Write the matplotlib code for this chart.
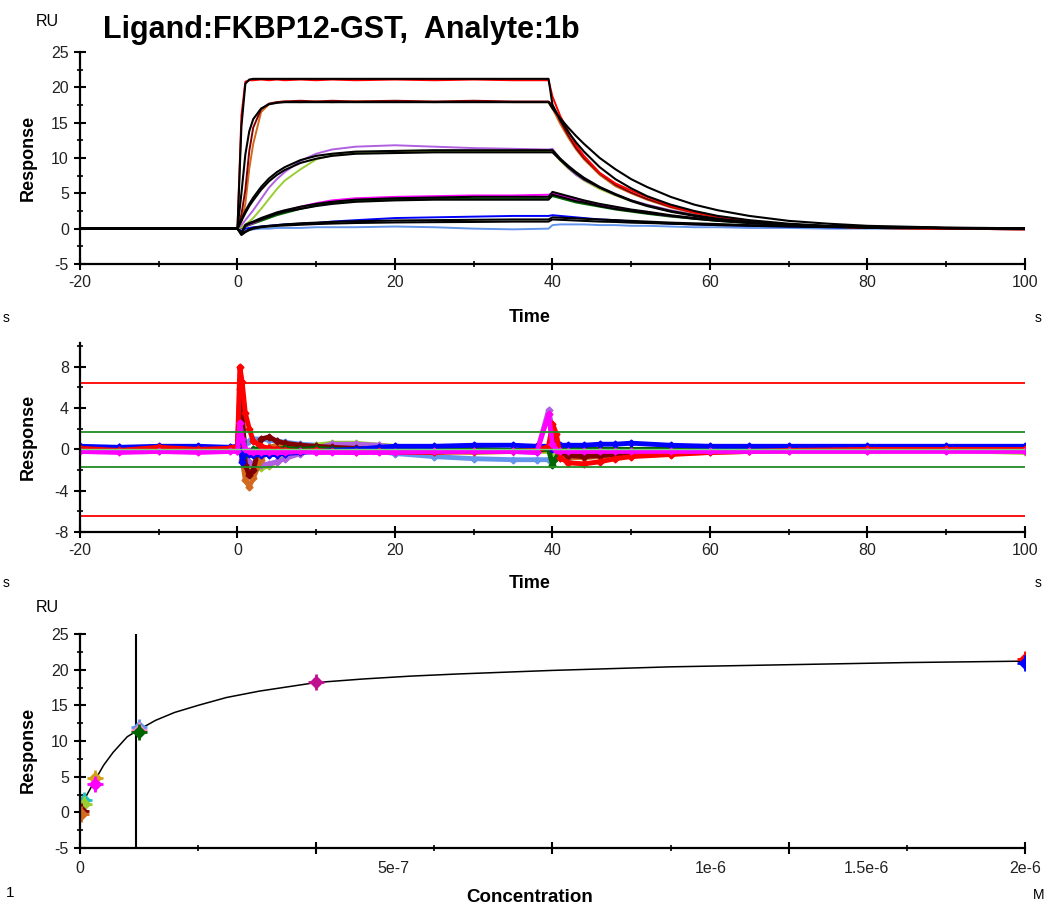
import numpy as np
import matplotlib.pyplot as plt
from matplotlib.ticker import MultipleLocator

plt.rcParams['font.family'] = ['Liberation Sans', 'DejaVu Sans']
plt.rcParams['axes.unicode_minus'] = False

# ---- top panel: sensorgrams (RU vs time, s) ----
sg_t = [-20, -10, -0.5, 0, 0.5, 1, 1.5, 2, 3, 4, 5, 6, 8, 10, 12, 15, 20, 25, 30, 35, 39.5,
        40, 41, 42, 43, 44, 46, 48, 50, 52, 55, 58, 61, 65, 70, 75, 80, 90, 100]

sg_red = [0.0, 0.0, 0.0, 0.0, 16.0, 20.8, 21.0, 21.0, 21.1, 21.0, 21.1, 21.0, 21.1, 21.0, 21.1, 21.0, 21.1, 21.0, 21.1, 21.0, 21.0,
          18.7, 15.9, 13.8, 11.8, 10.3, 7.9, 6.4, 5.4, 4.5, 3.2, 2.3, 1.7, 1.1, 0.6, 0.3, 0.1, 0.0, -0.1]
sg_brown = [0.0, 0.0, 0.0, 0.0, 2.0, 5.5, 11.0, 14.3, 16.9, 17.7, 17.9, 18.0, 18.1, 18.0, 18.1, 18.0, 18.1, 18.0, 18.1, 18.0, 18.0,
            17.5, 15.2, 13.2, 11.4, 10.0, 7.8, 6.2, 5.1, 4.2, 3.1, 2.3, 1.7, 1.1, 0.6, 0.3, 0.1, 0.0, 0.0]
sg_orange = [0.0, 0.0, 0.0, 0.0, 1.0, 3.5, 8.5, 12.0, 16.5, 17.6, 17.9, 18.0, 17.9, 18.0, 17.9, 18.0, 18.0, 17.9, 18.0, 17.9, 17.9,
             17.0, 14.8, 12.9, 11.2, 9.8, 7.6, 6.0, 5.0, 4.1, 3.0, 2.2, 1.6, 1.0, 0.5, 0.3, 0.1, 0.0, -0.1]
sg_purple = [0.0, 0.0, 0.0, 0.0, 0.5, 1.2, 1.9, 2.6, 4.2, 5.8, 7.0, 8.0, 9.6, 10.6, 11.2, 11.6, 11.8, 11.6, 11.4, 11.3, 11.2,
             11.3, 9.8, 8.6, 7.6, 6.9, 5.8, 4.8, 4.0, 3.4, 2.6, 2.0, 1.5, 1.0, 0.6, 0.3, 0.1, 0.0, -0.1]
sg_olive = [0.0, 0.0, 0.0, 0.0, 0.2, 0.6, 1.0, 1.5, 2.8, 4.2, 5.6, 6.8, 8.4, 9.8, 10.4, 10.8, 10.9, 10.9, 11.0, 10.9, 11.0,
            11.0, 9.6, 8.5, 7.6, 6.8, 5.6, 4.7, 3.9, 3.3, 2.5, 1.9, 1.4, 1.0, 0.6, 0.3, 0.1, 0.0, -0.1]
sg_magenta = [0.0, 0.0, 0.0, 0.0, 0.2, 0.4, 0.6, 0.8, 1.3, 1.8, 2.2, 2.5, 3.1, 3.6, 4.0, 4.3, 4.5, 4.6, 4.7, 4.7, 4.8,
              5.0, 4.7, 4.4, 4.1, 3.8, 3.4, 3.0, 2.6, 2.3, 1.8, 1.5, 1.2, 0.9, 0.6, 0.3, 0.2, 0.0, -0.1]
sg_dkgreen = [0.0, 0.0, 0.0, 0.0, 0.1, 0.3, 0.5, 0.7, 1.1, 1.5, 1.9, 2.2, 2.8, 3.3, 3.6, 3.9, 4.1, 4.2, 4.2, 4.2, 4.2,
              4.6, 4.3, 4.0, 3.7, 3.5, 3.1, 2.7, 2.4, 2.1, 1.7, 1.4, 1.1, 0.8, 0.5, 0.3, 0.1, 0.0, -0.1]
sg_blue = [0.0, 0.0, 0.0, 0.0, -0.3, 0.0, 0.1, 0.2, 0.3, 0.4, 0.5, 0.6, 0.7, 0.8, 1.0, 1.2, 1.5, 1.6, 1.7, 1.8, 1.8,
           1.9, 1.8, 1.7, 1.6, 1.5, 1.3, 1.2, 1.0, 0.9, 0.7, 0.6, 0.5, 0.4, 0.3, 0.2, 0.1, 0.0, 0.0]
sg_ltblue = [0.0, 0.0, 0.0, 0.0, -0.5, -0.3, -0.2, -0.1, 0.0, 0.0, 0.1, 0.1, 0.1, 0.2, 0.2, 0.2, 0.3, 0.2, 0.0, -0.1, 0.0,
             0.5, 0.6, 0.6, 0.6, 0.6, 0.5, 0.5, 0.4, 0.4, 0.3, 0.2, 0.2, 0.1, 0.1, 0.0, 0.0, 0.0, 0.0]

fit_2000 = [0.0, 0.0, 0.0, 0.0, 14.5, 20.5, 21.1, 21.2, 21.2, 21.2, 21.2, 21.2, 21.2, 21.2, 21.2, 21.2, 21.2, 21.2, 21.2, 21.2, 21.2,
            17.5, 15.4, 13.7, 12.2, 10.9, 8.7, 7.0, 5.7, 4.6, 3.4, 2.5, 1.8, 1.2, 0.7, 0.4, 0.2, 0.1, 0.0]
fit_500 = [0.0, 0.0, 0.0, 0.0, 5.0, 10.5, 13.8, 15.5, 17.0, 17.6, 17.8, 17.9, 17.9, 17.9, 17.9, 17.9, 17.9, 17.9, 17.9, 17.9, 17.9,
           17.0, 15.6, 14.3, 13.1, 12.0, 10.0, 8.4, 7.0, 5.9, 4.5, 3.4, 2.6, 1.8, 1.1, 0.7, 0.4, 0.15, 0.05]
fit_125a = [0.0, 0.0, 0.0, 0.0, 1.3, 2.5, 3.5, 4.4, 5.9, 7.1, 8.0, 8.7, 9.7, 10.3, 10.6, 10.9, 11.0, 11.1, 11.1, 11.1, 11.1,
            11.1, 9.9, 8.9, 8.0, 7.2, 5.9, 4.9, 4.0, 3.3, 2.5, 1.9, 1.4, 0.95, 0.6, 0.35, 0.2, 0.08, 0.03]
fit_125b = [0.0, 0.0, 0.0, 0.0, 1.1, 2.2, 3.2, 4.0, 5.5, 6.7, 7.6, 8.3, 9.3, 9.9, 10.3, 10.6, 10.7, 10.8, 10.8, 10.8, 10.8,
            10.8, 9.7, 8.7, 7.8, 7.0, 5.8, 4.8, 3.9, 3.2, 2.4, 1.8, 1.3, 0.9, 0.55, 0.3, 0.18, 0.07, 0.03]
fit_31a = [0.0, 0.0, 0.0, 0.0, -0.6, 0.55, 0.8, 1.0, 1.5, 1.9, 2.3, 2.6, 3.1, 3.5, 3.8, 4.1, 4.3, 4.4, 4.5, 4.5, 4.5,
           5.2, 4.9, 4.6, 4.3, 4.0, 3.5, 3.1, 2.7, 2.4, 1.9, 1.5, 1.2, 0.85, 0.55, 0.35, 0.2, 0.08, 0.03]
fit_31b = [0.0, 0.0, 0.0, 0.0, -0.7, 0.4, 0.7, 0.9, 1.3, 1.7, 2.1, 2.4, 2.8, 3.2, 3.5, 3.8, 4.0, 4.1, 4.1, 4.1, 4.1,
           4.8, 4.5, 4.2, 3.9, 3.7, 3.2, 2.8, 2.5, 2.2, 1.8, 1.4, 1.1, 0.8, 0.5, 0.3, 0.2, 0.08, 0.03]
fit_8a = [0.0, 0.0, 0.0, 0.0, -0.8, -0.4, -0.1, 0.1, 0.3, 0.4, 0.5, 0.6, 0.75, 0.85, 0.95, 1.05, 1.15, 1.2, 1.25, 1.3, 1.3,
          1.6, 1.55, 1.5, 1.45, 1.4, 1.3, 1.2, 1.1, 1.0, 0.85, 0.75, 0.65, 0.5, 0.4, 0.3, 0.2, 0.1, 0.05]
fit_8b = [0.0, 0.0, 0.0, 0.0, -0.9, -0.5, -0.2, 0.0, 0.2, 0.3, 0.4, 0.45, 0.55, 0.65, 0.72, 0.8, 0.88, 0.92, 0.95, 1.0, 1.0,
          1.3, 1.25, 1.2, 1.15, 1.1, 1.0, 0.95, 0.85, 0.8, 0.7, 0.6, 0.5, 0.4, 0.3, 0.22, 0.15, 0.08, 0.03]

sg_data = [sg_ltblue, sg_blue, sg_dkgreen, sg_magenta, sg_olive, sg_purple, sg_orange, sg_brown, sg_red]
sg_colors = ['#6495ed', '#0000ff', '#006400', '#ff00ff', '#9acd32', '#b060e0', '#d2691e', '#800000', '#ff0000']
sg_fits = [fit_8b, fit_8a, fit_31b, fit_31a, fit_125b, fit_125a, fit_500, fit_2000]

# ---- middle panel: residuals ----
res_t = [-20, -15, -10, -5, -1, 0, 0.3, 0.6, 1, 1.5, 2, 3, 4, 5, 6, 8, 10, 12, 15, 18, 20, 25, 30, 35, 38, 39.5,
         40, 40.5, 41, 42, 44, 46, 48, 50, 55, 60, 65, 70, 80, 90, 100]
res_ltblue = [0.1, 0.2, 0.0, 0.1, 0.2, 0.2, 5.0, 2.0, 0.5, 0.8, 1.0, 1.0, 0.9, 0.8, 0.7,
              0.5, 0.4, 0.2, 0.0, -0.2, -0.4, -0.7, -0.9, -1.0, -1.0, -1.0, -1.2, -0.5, -0.8, -0.9, -0.6, -0.4, -0.3, -0.2, -0.1,
              0.0, 0.0, 0.1, 0.0, 0.0, 0.0]
res_olive = [0.1, 0.0, -0.2, 0.1, 0.0, 0.0, 0.5, -0.5, -1.2, -1.6, -1.8, -1.8, -1.6, -1.2, -0.8,
             -0.2, 0.4, 0.6, 0.6, 0.4, 0.3, 0.2, 0.0, -0.1, -0.2, -0.2, -0.4, -0.4, -0.3, -0.2, -0.1, -0.2, -0.3, -0.2, -0.2,
             -0.2, -0.1, -0.2, -0.2, -0.1, -0.3]
res_purple = [0.0, 0.2, 0.0, -0.1, 0.1, 0.1, 2.5, 0.5, -0.8, -1.2, -1.4, -1.5, -1.4, -1.2, -0.9,
              -0.4, 0.1, 0.5, 0.5, 0.4, 0.2, 0.1, 0.0, -0.2, -0.3, 3.8, 2.0, 0.5, -0.2, -0.3, -0.3, -0.2, -0.2, -0.1, 0.0,
              0.0, 0.1, 0.0, 0.0, 0.1, 0.0]
res_orange = [-0.1, 0.0, 0.1, -0.1, 0.0, -0.2, 1.5, -1.0, -3.0, -3.6, -2.8, -1.0, 0.2, 0.4, 0.3,
              0.2, 0.1, 0.0, -0.1, -0.1, -0.2, -0.2, -0.3, -0.2, -0.2, 0.0, 0.8, 0.3, -0.5, -0.8, -0.8, -0.7, -0.6, -0.5, -0.4,
              -0.3, -0.2, -0.1, -0.1, 0.0, -0.1]
res_brown = [0.0, 0.1, -0.1, 0.1, 0.0, 0.2, 5.8, 4.0, -1.5, -2.5, -2.0, 1.0, 1.2, 0.8, 0.6,
             0.4, 0.3, 0.2, 0.1, 0.0, -0.1, -0.2, -0.2, -0.2, -0.1, 0.1, 1.2, 0.5, -0.3, -0.6, -0.7, -0.6, -0.5, -0.4, -0.3,
             -0.2, -0.1, -0.1, 0.0, 0.0, -0.1]
res_dkgreen = [0.0, 0.1, 0.0, 0.1, 0.0, 0.0, 2.0, 0.8, -0.5, -0.3, 0.0, 0.1, 0.0, 0.0, 0.1,
               0.0, 0.1, 0.0, 0.0, 0.1, 0.0, 0.0, 0.0, -0.1, 0.0, 0.0, -1.5, -0.8, 0.0, 0.1, 0.0, 0.0, 0.0, 0.0, 0.0,
               0.0, 0.0, 0.1, 0.0, 0.0, 0.0]
res_blue = [0.3, 0.2, 0.3, 0.3, 0.2, 0.3, 1.5, -1.2, -0.3, -0.4, -0.5, -0.5, -0.5, -0.5, -0.4,
            -0.3, -0.2, -0.1, 0.0, 0.2, 0.3, 0.3, 0.4, 0.4, 0.3, 0.3, 0.0, 0.3, 0.4, 0.4, 0.4, 0.5, 0.5, 0.6, 0.4,
            0.3, 0.3, 0.3, 0.3, 0.3, 0.3]
res_red = [0.1, -0.1, 0.2, 0.0, 0.1, 0.3, 8.0, 6.5, 3.5, 2.0, 0.8, 0.3, 0.1, 0.0, -0.1,
           -0.2, -0.1, -0.2, -0.3, -0.2, -0.3, -0.3, -0.2, -0.2, -0.1, 0.3, 2.5, 1.5, -0.8, -1.3, -1.4, -1.2, -0.9, -0.7, -0.5,
           -0.3, -0.2, -0.1, 0.0, 0.0, 0.0]
res_magenta = [-0.2, -0.3, -0.2, -0.3, -0.2, -0.2, 2.6, 1.0, 0.0, -0.2, -0.3, -0.3, -0.3, -0.3, -0.3,
               -0.2, -0.3, -0.3, -0.3, -0.3, -0.3, -0.2, -0.2, -0.2, -0.3, 3.4, 0.5, -0.1, -0.2, -0.2, -0.2, -0.2, -0.2, -0.2, -0.2,
               -0.2, -0.2, -0.2, -0.2, -0.2, -0.2]
res_data = [res_ltblue, res_olive, res_purple, res_orange, res_brown, res_dkgreen, res_blue, res_red, res_magenta]
res_colors = ['#6495ed', '#9acd32', '#b060e0', '#d2691e', '#800000', '#006400', '#0000ff', '#ff0000', '#ff00ff']
limit_outer = 6.4
limit_inner = 1.7

# ---- bottom panel: steady-state affinity ----
conc = [2e-6, 2e-6, 5e-7, 1.25e-7, 1.25e-7, 1.25e-7, 3.125e-8, 3.125e-8, 7.8e-9, 7.8e-9, 1.95e-9, 1.95e-9]
req = [21.5, 21.0, 18.3, 12.0, 11.5, 11.2, 4.8, 4.0, 1.8, 1.1, 0.2, -0.3]
req_colors = ['#ff0000', '#0000ff', '#c0108f', '#6495ed', '#ff88cc', '#006400', '#d4a017', '#ff00ff',
              '#20c0c0', '#9acd32', '#800000', '#d2691e']
fit_c = [0, 2e-9, 7.8e-9, 1.5e-8, 3.1e-8, 5e-8, 7e-8, 1.0e-7, 1.25e-7, 1.6e-7, 2.0e-7, 2.5e-7, 3.1e-7,
         3.8e-7, 4.4e-7, 5.0e-7, 6.0e-7, 7e-7, 8e-7, 1.0e-6, 1.25e-6, 1.5e-6, 1.75e-6, 2e-6]
fit_r = [0.0, 0.4, 1.4, 2.5, 4.4, 6.6, 8.4, 10.6, 11.6, 12.9, 14.0, 15.0, 16.1,
         17.0, 17.6, 18.2, 18.7, 19.1, 19.4, 19.9, 20.4, 20.7, 21.0, 21.2]
kd_line = 1.19e-7
conc_labels = ['0', '5e-7', '1e-6', '1.5e-6', '2e-6']
conc_label_pos = [0, 6.63e-7, 1.335e-6, 1.665e-6, 2e-6]


def style(ax):
    for s in ['top', 'right']:
        ax.spines[s].set_visible(False)
    for s in ['left', 'bottom']:
        ax.spines[s].set_linewidth(1.6)
    ax.tick_params(which='major', direction='inout', length=8, width=1.5, labelsize=11.5,
                   pad=4, labelcolor='#222222')
    ax.tick_params(which='minor', direction='inout', length=5, width=1.2)


fig = plt.figure(figsize=(10.44, 9.09), dpi=100)

ax1 = fig.add_axes([0.0766, 0.7096, 0.9052, 0.2332])
for y, c in zip(sg_data, sg_colors):
    ax1.plot(sg_t, y, color=c, lw=1.4)
for y in sg_fits:
    ax1.plot(sg_t, y, color='black', lw=1.5)
ax1.set_xlim(-20, 100)
ax1.set_ylim(-5, 25)
ax1.xaxis.set_major_locator(MultipleLocator(20))
ax1.xaxis.set_minor_locator(MultipleLocator(10))
ax1.yaxis.set_major_locator(MultipleLocator(5))
ax1.yaxis.set_minor_locator(MultipleLocator(2.5))
style(ax1)

ax2 = fig.add_axes([0.0766, 0.4147, 0.9052, 0.2080])
for y, c in zip(res_data, res_colors):
    ax2.plot(res_t, y, color=c, lw=3.5, marker='D', ms=3.5)
for v in (limit_outer, -limit_outer):
    ax2.axhline(v, color='#ff0000', lw=1.3)
for v in (limit_inner, -limit_inner):
    ax2.axhline(v, color='#228b22', lw=1.3)
ax2.axhline(0, color='#7fd17f', lw=1)
ax2.set_xlim(-20, 100)
ax2.set_ylim(-8, 10.3)
ax2.xaxis.set_major_locator(MultipleLocator(20))
ax2.xaxis.set_minor_locator(MultipleLocator(10))
ax2.yaxis.set_major_locator(MultipleLocator(4))
ax2.yaxis.set_minor_locator(MultipleLocator(2))
style(ax2)

ax3 = fig.add_axes([0.0766, 0.0671, 0.9052, 0.2354])
ax3.plot(fit_c, fit_r, color='black', lw=1.1)
ax3.plot([kd_line, kd_line], [-5, 25], color='black', lw=1.5)
for x, y, c in zip(conc, req, req_colors):
    ax3.plot(x, y, marker='D', ms=6, color=c, ls='none')
    ax3.plot(x, y, marker='+', ms=11, mew=2, color=c, ls='none')
ax3.set_xlim(0, 2e-6)
ax3.set_ylim(-5, 25)
ax3.xaxis.set_major_locator(MultipleLocator(5e-7))
ax3.xaxis.set_minor_locator(MultipleLocator(2.5e-7))
ax3.set_xticklabels([])
ax3.yaxis.set_major_locator(MultipleLocator(5))
ax3.yaxis.set_minor_locator(MultipleLocator(2.5))
style(ax3)
for p, lab in zip(conc_label_pos, conc_labels):
    ax3.annotate(lab, xy=(p, 0), xycoords=('data', 'axes fraction'), xytext=(0, -9),
                 textcoords='offset points', ha='center', va='top', fontsize=11.5, color='#222222')

# labels
W, H = 1044, 909
fig.text(103 / W, 1 - 30 / H, 'Ligand:FKBP12-GST,  Analyte:1b', ha='left', va='center',
         fontsize=22, fontweight='bold')
for yy in (22, 607):
    fig.text(47 / W, 1 - yy / H, 'RU', ha='center', va='center', fontsize=11.5)
for yy in (158, 437, 750):
    fig.text(28 / W, 1 - yy / H, 'Response', ha='center', va='center', rotation=90,
             fontsize=13, fontweight='bold')
for yy in (317, 583):
    fig.text(530 / W, 1 - yy / H, 'Time', ha='center', va='center', fontsize=13, fontweight='bold')
fig.text(530 / W, 1 - 898 / H, 'Concentration', ha='center', va='center', fontsize=13.5, fontweight='bold')
for yy in (318, 583):
    fig.text(1035 / W, 1 - yy / H, 's', ha='left', va='center', fontsize=10)
    fig.text(3 / W, 1 - yy / H, 's', ha='left', va='center', fontsize=10)
fig.text(1033 / W, 1 - 895 / H, 'M', ha='left', va='center', fontsize=10)
fig.text(10 / W, 1 - 893 / H, '1', ha='center', va='center', fontsize=11)

fig.savefig('out.png', dpi=100)
